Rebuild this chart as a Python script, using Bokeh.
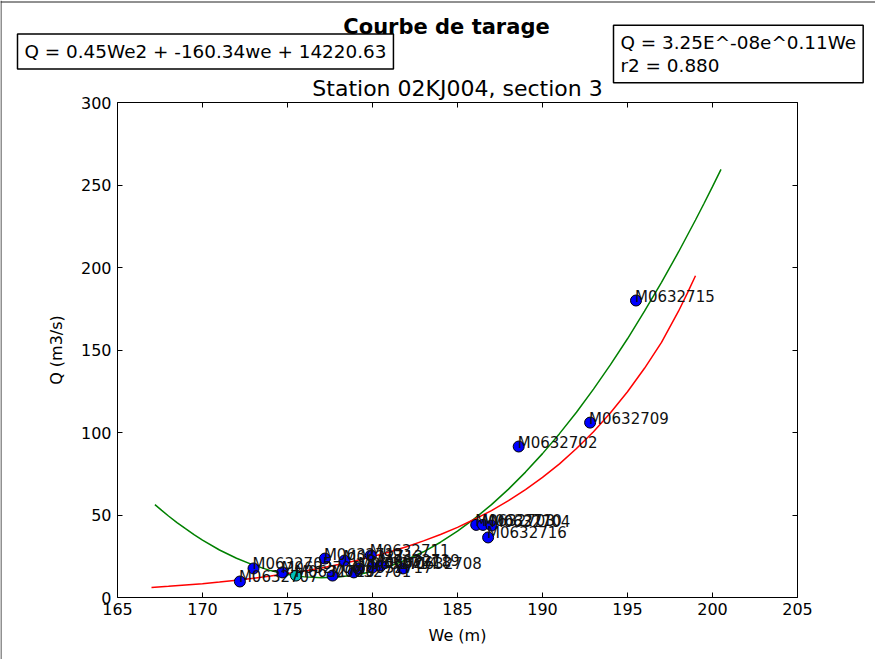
from bokeh.plotting import figure
from bokeh.models import Label, LabelSet, LinearAxis, Range1d, FixedTicker, ColumnDataSource, Span
from bokeh.embed import file_html
from bokeh.resources import INLINE
from bokeh.core.properties import value

# ---- data ----
point_names = ["M0632715", "M0632709", "M0632702", "M0632703", "M0632710", "M0632704", "M0632716",
               "M0632707", "M0632705", "M0632706", "M0632720", "M0632712", "M0632701", "M0632713",
               "M0632717", "M0632714", "M0632711", "M0632718", "M0632719", "M0632708"]
point_we = [195.5, 192.8, 188.6, 186.1, 186.5, 187.0, 186.8,
            172.2, 173.0, 174.7, 175.5, 177.2, 177.65, 178.35,
            178.9, 179.2, 179.9, 180.0, 180.5, 181.8]
point_q = [180.0, 106.0, 91.5, 44.0, 44.0, 43.6, 36.4,
           9.7, 17.6, 15.2, 13.3, 23.6, 13.3, 22.4,
           15.2, 17.6, 25.5, 18.2, 19.4, 17.6]
point_kind = ["m"] * 10 + ["c"] + ["m"] * 9   # one point drawn in cyan

# green curve (polynomial fit)
poly_we = [167.2, 167.6, 168, 168.5, 169, 169.5, 170, 171, 172, 173, 174, 175, 176, 177, 178,
           179, 180, 181, 182, 183, 184, 185, 186, 187, 188, 189, 190, 191, 192, 193, 194,
           195, 196, 197, 198, 199, 199.5, 200, 200.5]
poly_q = [56.3, 52.8, 49.4, 45.4, 41.7, 38.1, 34.8, 28.8, 23.8, 19.6, 16.3, 14.0, 12.5, 12.0,
          12.4, 13.6, 15.8, 18.9, 22.9, 27.7, 33.5, 40.2, 47.8, 56.3, 65.7, 76.0, 87.2, 99.3,
          112.3, 126.3, 141.1, 156.8, 173.5, 191.0, 209.4, 228.8, 238.8, 249.0, 259.5]

# red curve (exponential fit)
exp_we = [167, 168, 169, 170, 171, 172, 173, 174, 175, 176, 177, 178, 179, 180, 181, 182, 183,
          184, 185, 186, 187, 188, 189, 190, 191, 192, 193, 194, 195, 196, 197, 198, 198.5, 199]
exp_q = [6.1, 6.8, 7.6, 8.4, 9.4, 10.5, 11.7, 13.0, 14.5, 16.1, 17.9, 20.0, 22.3, 24.8, 27.6,
         30.8, 34.3, 38.2, 42.5, 47.4, 52.7, 58.7, 65.4, 72.8, 81.0, 90.3, 100.5, 112.0, 124.7,
         138.9, 154.6, 173.5, 184.0, 195.0]

x_ticks = [165, 170, 175, 180, 185, 190, 195, 200, 205]
y_ticks = [0, 50, 100, 150, 200, 250, 300]
x_lim = (165, 205)
y_lim = (0, 300)

title_text = "Courbe de tarage"
subtitle_text = "Station 02KJ004, section 3"
poly_eq_text = "Q = 0.45We2 + -160.34we + 14220.63"
exp_eq_text = "Q = 3.25E^-08e^0.11We\nr2 = 0.880"
x_label = "We (m)"
y_label = "Q (m3/s)"

FONT = "DejaVu Sans"
W, H = 875, 659
# axes box inside the canvas (pixels)
BOX_L, BOX_R, BOX_T, BOX_B = 117, 797, 102, 597
PX_X = (BOX_R - BOX_L) / (x_lim[1] - x_lim[0])
PX_Y = (BOX_B - BOX_T) / (y_lim[1] - y_lim[0])


def cx(px):
    """canvas pixel column -> x coordinate of the plot's scale"""
    return x_lim[0] + (px - BOX_L) / PX_X


def cy(py):
    """canvas pixel row -> y coordinate of the plot's scale"""
    return y_lim[0] + (BOX_B - py) / PX_Y


p = figure(width=W, height=H, x_range=Range1d(cx(0), cx(W)), y_range=Range1d(cy(H), cy(0)),
           output_backend="svg", toolbar_location=None,
           min_border=0, min_border_left=0, min_border_right=0, min_border_top=0,
           min_border_bottom=0)
p.background_fill_color = "white"
p.border_fill_color = "white"
p.outline_line_color = None
p.xgrid.visible = False
p.ygrid.visible = False


def style_axis(ax, labels=True):
    ax.axis_line_color = "black"
    ax.axis_line_width = 1
    ax.major_tick_in = 5
    ax.major_tick_out = 0
    ax.major_tick_line_color = "black"
    ax.minor_tick_line_color = None
    ax.major_label_text_font = FONT
    ax.major_label_text_font_size = "16px"
    ax.major_label_text_color = "black" if labels else None
    ax.axis_label_text_font = FONT
    ax.axis_label_text_font_size = "16px"
    ax.axis_label_text_font_style = "normal"
    ax.axis_label_text_color = "black"


xa = p.xaxis[0]
ya = p.yaxis[0]
style_axis(xa)
style_axis(ya)
xa.ticker = FixedTicker(ticks=x_ticks)
ya.ticker = FixedTicker(ticks=y_ticks)
xa.bounds = x_lim
ya.bounds = y_lim
xa.fixed_location = y_lim[0]
ya.fixed_location = x_lim[0]
xa.axis_label = x_label
ya.axis_label = y_label
xa.major_label_standoff = 5
ya.major_label_standoff = 6
xa.axis_label_standoff = 8
ya.axis_label_standoff = 12

top_ax = LinearAxis(ticker=FixedTicker(ticks=x_ticks), bounds=x_lim, fixed_location=y_lim[1])
right_ax = LinearAxis(ticker=FixedTicker(ticks=y_ticks), bounds=y_lim, fixed_location=x_lim[1])
style_axis(top_ax, labels=False)
style_axis(right_ax, labels=False)
p.add_layout(top_ax, "above")
p.add_layout(right_ax, "right")

# outer figure edge (left and top), as in the reference screenshot
p.add_layout(Span(location=cx(0.5), dimension="height", line_color="#222222", line_width=1))
p.add_layout(Span(location=cy(1.5), dimension="width", line_color="#222222", line_width=1))

# curves
p.line(poly_we, poly_q, line_color="green", line_width=1.5)
p.line(exp_we, exp_q, line_color="red", line_width=1.5)

# points
colors = ["#00BFBF" if k == "c" else "blue" for k in point_kind]
src = ColumnDataSource(dict(x=point_we, y=point_q, name=point_names, color=colors))
p.scatter("x", "y", source=src, size=11, fill_color="color", line_color="black", line_width=1)
p.add_layout(LabelSet(x="x", y="y", text="name", source=src, text_font=value(FONT),
                      text_font_size=value("15px"), text_color="#111111",
                      text_baseline="alphabetic", x_offset=-1, y_offset=-1))

# titles and equation boxes
p.add_layout(Label(x=cx(446), y=cy(26), text=title_text, text_font=FONT,
                   text_font_size="21px", text_font_style="bold", text_color="black",
                   text_align="center", text_baseline="middle"))
p.add_layout(Label(x=cx(457), y=cy(88), text=subtitle_text, text_font=FONT,
                   text_font_size="22px", text_color="black",
                   text_align="center", text_baseline="middle"))
p.add_layout(Label(x=cx(17), y=cy(51), text=poly_eq_text, text_font=FONT,
                   text_font_size="18.4px", text_color="black",
                   text_align="left", text_baseline="middle",
                   border_line_color="black", border_line_width=1.5,
                   background_fill_color="white", padding=7))
p.add_layout(Label(x=cx(613), y=cy(53.5), text=exp_eq_text, text_font=FONT,
                   text_font_size="18.4px", text_color="black",
                   text_align="left", text_baseline="middle",
                   text_line_height=1.08, border_line_color="black", border_line_width=1.5,
                   background_fill_color="white", padding=7))

open("out.html", "w").write(file_html(p, INLINE))
